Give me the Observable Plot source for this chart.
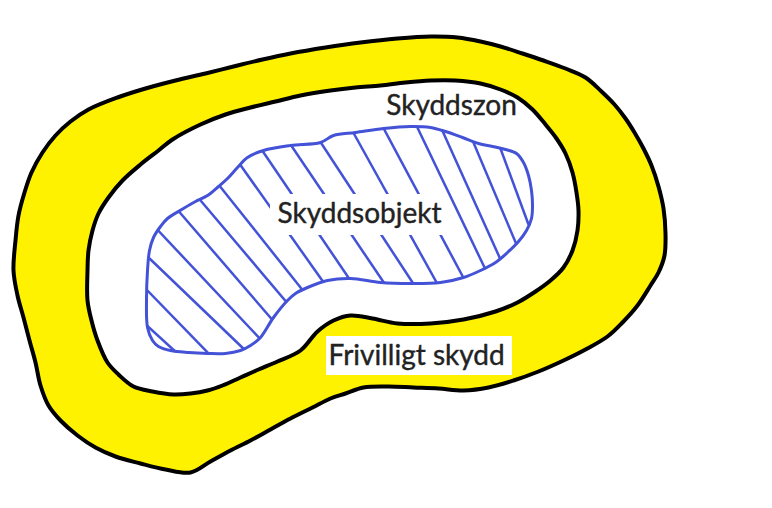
<!DOCTYPE html>
<html>
<head>
<meta charset="utf-8">
<script src="https://cdn.jsdelivr.net/npm/d3@7"></script>
<script src="https://cdn.jsdelivr.net/npm/@observablehq/plot@0.6"></script>
<style>
  html, body { margin: 0; padding: 0; background: #ffffff; }
  #chart { width: 772px; height: 508px; }
</style>
</head>
<body>
<div id="chart"></div>
<script>
// Outer boundary of the voluntary protection (yellow) zone
const outerShape = [[13,270],[15,240],[18,215],[24,192],[31,172],[42,152],[55,135],[70,121],[88,109],[117,97],[145,88],[175,80],[205,73],[233,66],[262,59],[290,53],[325,47],[360,42],[397,38],[430,36],[457,37],[480,41],[500,46],[522,53],[543,60],[565,68],[585,77],[601,91],[614,104],[625,118],[634,132],[643,148],[651,165],[658,186],[663,208],[665,233],[664,255],[658,272],[650,285],[637,305],[622,322],[607,336],[585,349],[563,360],[538,371],[513,380],[488,387],[463,390],[438,388],[413,387],[388,386],[363,387],[345,393],[330,398],[312,407],[290,418],[270,429],[250,440],[230,450],[210,461],[190,472],[165,469],[140,463],[115,456],[95,447],[77,435],[60,420],[48,405],[40,385],[35,362],[29,340],[23,317],[17,295]];

// Boundary of the protection zone (white)
const zoneShape = [[87,270],[88,250],[92,230],[98,213],[108,197],[122,180],[140,164],[158,150],[172,139],[200,124],[225,114],[250,107],[275,101],[300,95],[330,90],[355,87],[380,85],[405,82],[430,80],[455,80],[480,83],[500,89],[517,97],[532,109],[545,124],[556,138],[565,153],[572,172],[576,192],[578,210],[577,230],[572,250],[563,267],[550,280],[535,291],[517,302],[495,311],[463,319],[430,323],[397,323],[372,318],[350,315],[333,320],[317,331],[300,350],[277,361],[258,369],[240,377],[222,385],[207,390],[190,393],[173,394],[152,391],[133,386],[118,374],[107,362],[97,340],[91,320],[87,300]];

// Boundary of the protected object (blue, hatched)
const objectShape = [[147,270],[149,250],[153,237],[160,226],[167,218],[183,208],[195,201],[207,195],[218,186],[227,178],[237,167],[247,157],[263,150],[290,145],[320,142],[333,135],[355,132],[383,128],[410,126],[430,127],[445,131],[462,137],[478,143],[492,146],[505,149],[516,153],[523,162],[528,175],[531,190],[532,205],[531,218],[526,230],[518,241],[507,252],[495,262],[480,270],[463,277],[440,282],[410,283],[380,282],[350,278],[327,280],[307,287],[295,293],[287,300],[273,317],[260,337],[250,345],[240,350],[225,353],[207,353],[188,352],[170,350],[158,346],[152,340],[147,327],[146,300]];

// Hatch strokes [x1, y1, x2, y2]
const hatch = [
  [143,322,177,353],[145,288,212,357],[148,257,247,352],[153,225,263,342],
  [175,207,275,323],[195,194,288,304],[214,179,304,292],[236,159,326,286],
  [259,146,354,286],[288,141,386,286],[317,137,416,288],[350,127,440,289],
  [380,122,466,283],[414,121,485,269],[440,126,500,259],[470,135,516,244],
  [497,140,528,224]
];

// Labels
const labels = ["Skyddszon", "Skyddsobjekt", "Frivilligt skydd"];
const labelX = [451, 359, 328];
const labelY = [106, 214, 356];
const labelAnchor = ["middle", "middle", "start"];

// White label backgrounds [x1, y1, x2, y2]
const labelBoxes = [[270,194,447,235],[326,336,512,375]];

const font = "Lato, 'Open Sans', sans-serif";
const labelData = labels.map((t, i) => ({t, x: labelX[i], y: labelY[i], a: labelAnchor[i]}));

const plot = Plot.plot({
  width: 772,
  height: 508,
  margin: 0,
  x: {domain: [0, 772], range: [0, 772], axis: null},
  y: {domain: [0, 508], range: [0, 508], axis: null},
  style: {background: "#ffffff", fontFamily: font},
  marks: [
    Plot.line(outerShape, {curve: "catmull-rom-closed", fill: "#fff200", stroke: "#000000", strokeWidth: 4}),
    Plot.line(zoneShape, {curve: "catmull-rom-closed", fill: "#ffffff", stroke: "#000000", strokeWidth: 4}),
    Plot.line(objectShape, {curve: "catmull-rom-closed", fill: "#ffffff", stroke: "#4352d6", strokeWidth: 3}),
    Plot.link(hatch, {x1: d => d[0], y1: d => d[1], x2: d => d[2], y2: d => d[3], stroke: "#4352d6", strokeWidth: 2.5}),
    Plot.rect(labelBoxes, {x1: d => d[0], y1: d => d[1], x2: d => d[2], y2: d => d[3], fill: "#ffffff"}),
    Plot.text(labelData.filter(d => d.a === "middle"),
      {x: "x", y: "y", text: "t", textAnchor: "middle", fontSize: 28, fill: "#222222", stroke: "#222222", strokeWidth: 0.4, fontFamily: font}),
    Plot.text(labelData.filter(d => d.a === "start"),
      {x: "x", y: "y", text: "t", textAnchor: "start", fontSize: 28, fill: "#222222", stroke: "#222222", strokeWidth: 0.4, fontFamily: font})
  ]
});

// Clip hatch strokes to the protected-object outline
const lines = plot.querySelectorAll('g[aria-label="line"]');
const blue = lines[2].querySelector("path");
const ns = "http://www.w3.org/2000/svg";
const defs = document.createElementNS(ns, "defs");
const cp = document.createElementNS(ns, "clipPath");
cp.setAttribute("id", "object-clip");
const cpPath = document.createElementNS(ns, "path");
cpPath.setAttribute("d", blue.getAttribute("d"));
cp.appendChild(cpPath);
defs.appendChild(cp);
plot.insertBefore(defs, plot.firstChild);
const linkG = plot.querySelector('g[aria-label="link"]');
linkG.setAttribute("clip-path", "url(#object-clip)");

document.getElementById("chart").appendChild(plot);
</script>
</body>
</html>
